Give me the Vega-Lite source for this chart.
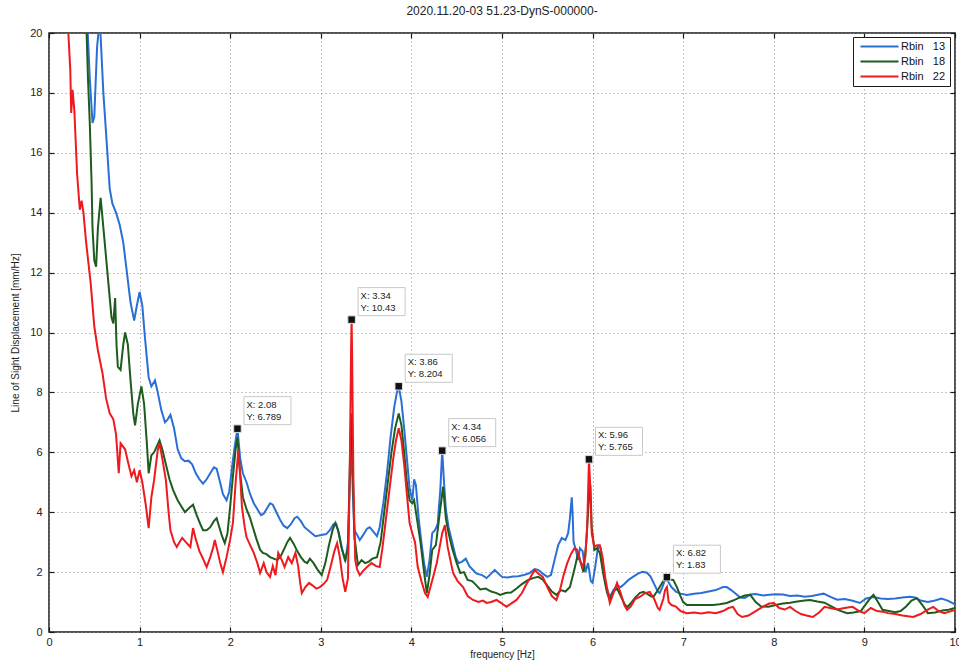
{
  "$schema": "https://vega.github.io/schema/vega-lite/v6.json",
  "width": 906,
  "height": 599,
  "autosize": {"type": "none"},
  "padding": {"left": 49, "top": 33, "right": 4, "bottom": 28},
  "background": "white",
  "title": {
    "text": "2020.11.20-03 51.23-DynS-000000-",
    "font": "Liberation Sans",
    "fontSize": 12,
    "fontWeight": "normal",
    "color": "#222222",
    "anchor": "middle",
    "offset": 9
  },
  "config": {
    "view": {"stroke": "#1a1a1a", "strokeWidth": 1.5},
    "axis": {
      "labelFont": "Liberation Sans",
      "labelFontSize": 11,
      "labelColor": "#222222",
      "titleFont": "Liberation Sans",
      "titleFontSize": 10,
      "titleFontWeight": "normal",
      "titleColor": "#222222",
      "tickColor": "#1a1a1a",
      "tickWidth": 1.2,
      "tickSize": -5,
      "domain": false,
      "grid": true,
      "gridColor": "#8a8a8a",
      "gridDash": [1, 3],
      "gridWidth": 1,
      "labelFlush": false
    }
  },
  "resolve": {"axis": {"x": "independent", "y": "independent"}},
  "datasets": {
    "spectra": [
      {"s":"Rbin 13","f":0.38,"v":24},{"s":"Rbin 13","f":0.42,"v":20.5},{"s":"Rbin 13","f":0.45,"v":18.5},{"s":"Rbin 13","f":0.48,"v":17.0},{"s":"Rbin 13","f":0.5,"v":17.2},{"s":"Rbin 13","f":0.53,"v":19.5},{"s":"Rbin 13","f":0.56,"v":20.5},{"s":"Rbin 13","f":0.6,"v":18.0},{"s":"Rbin 13","f":0.64,"v":16.2},{"s":"Rbin 13","f":0.67,"v":14.8},{"s":"Rbin 13","f":0.7,"v":14.3},{"s":"Rbin 13","f":0.74,"v":14.0},{"s":"Rbin 13","f":0.78,"v":13.6},{"s":"Rbin 13","f":0.82,"v":13.0},{"s":"Rbin 13","f":0.86,"v":12.0},{"s":"Rbin 13","f":0.9,"v":11.0},{"s":"Rbin 13","f":0.94,"v":10.4},{"s":"Rbin 13","f":0.97,"v":10.9},{"s":"Rbin 13","f":1.0,"v":11.35},{"s":"Rbin 13","f":1.03,"v":10.9},{"s":"Rbin 13","f":1.06,"v":9.8},{"s":"Rbin 13","f":1.1,"v":8.5},{"s":"Rbin 13","f":1.13,"v":8.2},{"s":"Rbin 13","f":1.17,"v":8.4},{"s":"Rbin 13","f":1.2,"v":8.0},{"s":"Rbin 13","f":1.24,"v":7.4},{"s":"Rbin 13","f":1.28,"v":7.0},{"s":"Rbin 13","f":1.31,"v":7.1},{"s":"Rbin 13","f":1.34,"v":7.25},{"s":"Rbin 13","f":1.38,"v":6.8},{"s":"Rbin 13","f":1.42,"v":6.1},{"s":"Rbin 13","f":1.46,"v":5.8},{"s":"Rbin 13","f":1.5,"v":5.7},{"s":"Rbin 13","f":1.54,"v":5.72},{"s":"Rbin 13","f":1.58,"v":5.6},{"s":"Rbin 13","f":1.62,"v":5.3},{"s":"Rbin 13","f":1.66,"v":5.1},{"s":"Rbin 13","f":1.7,"v":4.95},{"s":"Rbin 13","f":1.74,"v":5.1},{"s":"Rbin 13","f":1.78,"v":5.3},{"s":"Rbin 13","f":1.82,"v":5.5},{"s":"Rbin 13","f":1.85,"v":5.45},{"s":"Rbin 13","f":1.88,"v":5.1},{"s":"Rbin 13","f":1.92,"v":4.6},{"s":"Rbin 13","f":1.96,"v":4.4},{"s":"Rbin 13","f":1.99,"v":4.7},{"s":"Rbin 13","f":2.02,"v":5.5},{"s":"Rbin 13","f":2.05,"v":6.2},{"s":"Rbin 13","f":2.08,"v":6.789},{"s":"Rbin 13","f":2.11,"v":5.8},{"s":"Rbin 13","f":2.14,"v":5.3},{"s":"Rbin 13","f":2.18,"v":5.0},{"s":"Rbin 13","f":2.22,"v":4.6},{"s":"Rbin 13","f":2.26,"v":4.3},{"s":"Rbin 13","f":2.3,"v":4.1},{"s":"Rbin 13","f":2.34,"v":3.9},{"s":"Rbin 13","f":2.37,"v":3.95},{"s":"Rbin 13","f":2.4,"v":4.1},{"s":"Rbin 13","f":2.44,"v":4.3},{"s":"Rbin 13","f":2.47,"v":4.25},{"s":"Rbin 13","f":2.51,"v":4.0},{"s":"Rbin 13","f":2.55,"v":3.75},{"s":"Rbin 13","f":2.59,"v":3.55},{"s":"Rbin 13","f":2.63,"v":3.47},{"s":"Rbin 13","f":2.67,"v":3.6},{"s":"Rbin 13","f":2.71,"v":3.8},{"s":"Rbin 13","f":2.74,"v":3.85},{"s":"Rbin 13","f":2.78,"v":3.7},{"s":"Rbin 13","f":2.82,"v":3.5},{"s":"Rbin 13","f":2.86,"v":3.4},{"s":"Rbin 13","f":2.9,"v":3.3},{"s":"Rbin 13","f":2.94,"v":3.2},{"s":"Rbin 13","f":2.98,"v":3.22},{"s":"Rbin 13","f":3.02,"v":3.25},{"s":"Rbin 13","f":3.06,"v":3.27},{"s":"Rbin 13","f":3.1,"v":3.4},{"s":"Rbin 13","f":3.14,"v":3.6},{"s":"Rbin 13","f":3.17,"v":3.62},{"s":"Rbin 13","f":3.2,"v":3.3},{"s":"Rbin 13","f":3.24,"v":2.7},{"s":"Rbin 13","f":3.27,"v":2.35},{"s":"Rbin 13","f":3.3,"v":3.0},{"s":"Rbin 13","f":3.32,"v":5.0},{"s":"Rbin 13","f":3.335,"v":6.2},{"s":"Rbin 13","f":3.35,"v":5.0},{"s":"Rbin 13","f":3.37,"v":3.4},{"s":"Rbin 13","f":3.4,"v":3.25},{"s":"Rbin 13","f":3.43,"v":3.07},{"s":"Rbin 13","f":3.47,"v":3.25},{"s":"Rbin 13","f":3.51,"v":3.45},{"s":"Rbin 13","f":3.54,"v":3.5},{"s":"Rbin 13","f":3.58,"v":3.35},{"s":"Rbin 13","f":3.62,"v":3.2},{"s":"Rbin 13","f":3.65,"v":3.5},{"s":"Rbin 13","f":3.69,"v":4.3},{"s":"Rbin 13","f":3.73,"v":5.3},{"s":"Rbin 13","f":3.77,"v":6.5},{"s":"Rbin 13","f":3.81,"v":7.5},{"s":"Rbin 13","f":3.84,"v":8.0},{"s":"Rbin 13","f":3.86,"v":8.204},{"s":"Rbin 13","f":3.89,"v":7.7},{"s":"Rbin 13","f":3.92,"v":6.8},{"s":"Rbin 13","f":3.95,"v":5.8},{"s":"Rbin 13","f":3.98,"v":4.8},{"s":"Rbin 13","f":4.01,"v":4.4},{"s":"Rbin 13","f":4.03,"v":5.1},{"s":"Rbin 13","f":4.05,"v":4.9},{"s":"Rbin 13","f":4.08,"v":3.8},{"s":"Rbin 13","f":4.11,"v":3.0},{"s":"Rbin 13","f":4.14,"v":2.3},{"s":"Rbin 13","f":4.17,"v":1.84},{"s":"Rbin 13","f":4.2,"v":2.4},{"s":"Rbin 13","f":4.23,"v":3.3},{"s":"Rbin 13","f":4.26,"v":3.4},{"s":"Rbin 13","f":4.29,"v":3.6},{"s":"Rbin 13","f":4.32,"v":4.8},{"s":"Rbin 13","f":4.34,"v":6.056},{"s":"Rbin 13","f":4.36,"v":5.0},{"s":"Rbin 13","f":4.38,"v":4.1},{"s":"Rbin 13","f":4.41,"v":3.5},{"s":"Rbin 13","f":4.45,"v":3.0},{"s":"Rbin 13","f":4.49,"v":2.5},{"s":"Rbin 13","f":4.52,"v":2.3},{"s":"Rbin 13","f":4.56,"v":2.35},{"s":"Rbin 13","f":4.6,"v":2.45},{"s":"Rbin 13","f":4.64,"v":2.2},{"s":"Rbin 13","f":4.68,"v":2.07},{"s":"Rbin 13","f":4.72,"v":1.95},{"s":"Rbin 13","f":4.78,"v":1.9},{"s":"Rbin 13","f":4.83,"v":1.8},{"s":"Rbin 13","f":4.88,"v":1.95},{"s":"Rbin 13","f":4.92,"v":2.07},{"s":"Rbin 13","f":4.96,"v":1.95},{"s":"Rbin 13","f":5.0,"v":1.84},{"s":"Rbin 13","f":5.06,"v":1.82},{"s":"Rbin 13","f":5.12,"v":1.85},{"s":"Rbin 13","f":5.18,"v":1.86},{"s":"Rbin 13","f":5.24,"v":1.9},{"s":"Rbin 13","f":5.3,"v":1.96},{"s":"Rbin 13","f":5.36,"v":2.1},{"s":"Rbin 13","f":5.4,"v":2.07},{"s":"Rbin 13","f":5.45,"v":1.95},{"s":"Rbin 13","f":5.5,"v":1.84},{"s":"Rbin 13","f":5.54,"v":1.9},{"s":"Rbin 13","f":5.58,"v":2.4},{"s":"Rbin 13","f":5.62,"v":2.9},{"s":"Rbin 13","f":5.66,"v":3.14},{"s":"Rbin 13","f":5.7,"v":3.07},{"s":"Rbin 13","f":5.73,"v":3.3},{"s":"Rbin 13","f":5.75,"v":3.8},{"s":"Rbin 13","f":5.77,"v":4.5},{"s":"Rbin 13","f":5.78,"v":3.9},{"s":"Rbin 13","f":5.79,"v":3.0},{"s":"Rbin 13","f":5.81,"v":2.8},{"s":"Rbin 13","f":5.84,"v":2.4},{"s":"Rbin 13","f":5.86,"v":2.8},{"s":"Rbin 13","f":5.89,"v":2.7},{"s":"Rbin 13","f":5.92,"v":2.0},{"s":"Rbin 13","f":5.95,"v":2.3},{"s":"Rbin 13","f":5.98,"v":1.7},{"s":"Rbin 13","f":6.0,"v":1.64},{"s":"Rbin 13","f":6.03,"v":2.2},{"s":"Rbin 13","f":6.06,"v":2.84},{"s":"Rbin 13","f":6.09,"v":2.8},{"s":"Rbin 13","f":6.12,"v":2.0},{"s":"Rbin 13","f":6.15,"v":1.5},{"s":"Rbin 13","f":6.19,"v":1.17},{"s":"Rbin 13","f":6.23,"v":1.4},{"s":"Rbin 13","f":6.27,"v":1.55},{"s":"Rbin 13","f":6.31,"v":1.5},{"s":"Rbin 13","f":6.35,"v":1.6},{"s":"Rbin 13","f":6.4,"v":1.75},{"s":"Rbin 13","f":6.45,"v":1.85},{"s":"Rbin 13","f":6.5,"v":1.95},{"s":"Rbin 13","f":6.55,"v":2.01},{"s":"Rbin 13","f":6.6,"v":1.98},{"s":"Rbin 13","f":6.64,"v":1.85},{"s":"Rbin 13","f":6.68,"v":1.6},{"s":"Rbin 13","f":6.72,"v":1.35},{"s":"Rbin 13","f":6.74,"v":1.3},{"s":"Rbin 13","f":6.77,"v":1.5},{"s":"Rbin 13","f":6.8,"v":1.75},{"s":"Rbin 13","f":6.83,"v":1.7},{"s":"Rbin 13","f":6.87,"v":1.5},{"s":"Rbin 13","f":6.92,"v":1.35},{"s":"Rbin 13","f":6.97,"v":1.28},{"s":"Rbin 13","f":7.04,"v":1.24},{"s":"Rbin 13","f":7.12,"v":1.28},{"s":"Rbin 13","f":7.2,"v":1.3},{"s":"Rbin 13","f":7.28,"v":1.35},{"s":"Rbin 13","f":7.36,"v":1.4},{"s":"Rbin 13","f":7.44,"v":1.5},{"s":"Rbin 13","f":7.48,"v":1.5},{"s":"Rbin 13","f":7.53,"v":1.4},{"s":"Rbin 13","f":7.58,"v":1.28},{"s":"Rbin 13","f":7.63,"v":1.15},{"s":"Rbin 13","f":7.68,"v":1.14},{"s":"Rbin 13","f":7.74,"v":1.25},{"s":"Rbin 13","f":7.8,"v":1.27},{"s":"Rbin 13","f":7.88,"v":1.22},{"s":"Rbin 13","f":7.95,"v":1.24},{"s":"Rbin 13","f":8.02,"v":1.26},{"s":"Rbin 13","f":8.1,"v":1.25},{"s":"Rbin 13","f":8.18,"v":1.2},{"s":"Rbin 13","f":8.26,"v":1.22},{"s":"Rbin 13","f":8.34,"v":1.18},{"s":"Rbin 13","f":8.42,"v":1.2},{"s":"Rbin 13","f":8.5,"v":1.25},{"s":"Rbin 13","f":8.55,"v":1.28},{"s":"Rbin 13","f":8.62,"v":1.18},{"s":"Rbin 13","f":8.7,"v":1.08},{"s":"Rbin 13","f":8.78,"v":1.1},{"s":"Rbin 13","f":8.86,"v":1.05},{"s":"Rbin 13","f":8.95,"v":0.97},{"s":"Rbin 13","f":9.02,"v":1.12},{"s":"Rbin 13","f":9.1,"v":1.17},{"s":"Rbin 13","f":9.18,"v":1.12},{"s":"Rbin 13","f":9.26,"v":1.1},{"s":"Rbin 13","f":9.34,"v":1.12},{"s":"Rbin 13","f":9.42,"v":1.15},{"s":"Rbin 13","f":9.5,"v":1.18},{"s":"Rbin 13","f":9.56,"v":1.15},{"s":"Rbin 13","f":9.62,"v":1.05},{"s":"Rbin 13","f":9.7,"v":1.0},{"s":"Rbin 13","f":9.78,"v":1.05},{"s":"Rbin 13","f":9.85,"v":1.12},{"s":"Rbin 13","f":9.92,"v":1.05},{"s":"Rbin 13","f":10.0,"v":0.92},

      {"s":"Rbin 18","f":0.36,"v":24},{"s":"Rbin 18","f":0.41,"v":20.5},{"s":"Rbin 18","f":0.43,"v":18.5},{"s":"Rbin 18","f":0.45,"v":17.0},{"s":"Rbin 18","f":0.47,"v":15.0},{"s":"Rbin 18","f":0.48,"v":13.5},{"s":"Rbin 18","f":0.5,"v":12.4},{"s":"Rbin 18","f":0.52,"v":12.2},{"s":"Rbin 18","f":0.54,"v":13.5},{"s":"Rbin 18","f":0.57,"v":14.5},{"s":"Rbin 18","f":0.6,"v":13.5},{"s":"Rbin 18","f":0.63,"v":12.5},{"s":"Rbin 18","f":0.66,"v":11.5},{"s":"Rbin 18","f":0.69,"v":10.5},{"s":"Rbin 18","f":0.71,"v":10.3},{"s":"Rbin 18","f":0.73,"v":11.15},{"s":"Rbin 18","f":0.745,"v":9.6},{"s":"Rbin 18","f":0.76,"v":8.85},{"s":"Rbin 18","f":0.79,"v":8.75},{"s":"Rbin 18","f":0.82,"v":9.6},{"s":"Rbin 18","f":0.84,"v":10.0},{"s":"Rbin 18","f":0.87,"v":9.6},{"s":"Rbin 18","f":0.9,"v":8.4},{"s":"Rbin 18","f":0.93,"v":7.3},{"s":"Rbin 18","f":0.95,"v":6.9},{"s":"Rbin 18","f":0.98,"v":7.6},{"s":"Rbin 18","f":1.02,"v":8.2},{"s":"Rbin 18","f":1.05,"v":7.6},{"s":"Rbin 18","f":1.08,"v":6.3},{"s":"Rbin 18","f":1.1,"v":5.3},{"s":"Rbin 18","f":1.13,"v":5.9},{"s":"Rbin 18","f":1.16,"v":6.0},{"s":"Rbin 18","f":1.19,"v":6.2},{"s":"Rbin 18","f":1.22,"v":6.4},{"s":"Rbin 18","f":1.25,"v":6.1},{"s":"Rbin 18","f":1.29,"v":5.6},{"s":"Rbin 18","f":1.33,"v":5.1},{"s":"Rbin 18","f":1.37,"v":4.74},{"s":"Rbin 18","f":1.42,"v":4.4},{"s":"Rbin 18","f":1.46,"v":4.2},{"s":"Rbin 18","f":1.5,"v":4.0},{"s":"Rbin 18","f":1.55,"v":4.15},{"s":"Rbin 18","f":1.59,"v":4.25},{"s":"Rbin 18","f":1.63,"v":3.9},{"s":"Rbin 18","f":1.67,"v":3.6},{"s":"Rbin 18","f":1.7,"v":3.4},{"s":"Rbin 18","f":1.74,"v":3.4},{"s":"Rbin 18","f":1.78,"v":3.5},{"s":"Rbin 18","f":1.82,"v":3.7},{"s":"Rbin 18","f":1.85,"v":3.8},{"s":"Rbin 18","f":1.88,"v":3.5},{"s":"Rbin 18","f":1.91,"v":3.2},{"s":"Rbin 18","f":1.94,"v":2.97},{"s":"Rbin 18","f":1.97,"v":3.3},{"s":"Rbin 18","f":2.0,"v":4.2},{"s":"Rbin 18","f":2.03,"v":5.2},{"s":"Rbin 18","f":2.06,"v":6.1},{"s":"Rbin 18","f":2.08,"v":6.5},{"s":"Rbin 18","f":2.11,"v":5.3},{"s":"Rbin 18","f":2.14,"v":4.5},{"s":"Rbin 18","f":2.18,"v":4.1},{"s":"Rbin 18","f":2.22,"v":3.8},{"s":"Rbin 18","f":2.25,"v":3.5},{"s":"Rbin 18","f":2.29,"v":3.1},{"s":"Rbin 18","f":2.33,"v":2.75},{"s":"Rbin 18","f":2.36,"v":2.64},{"s":"Rbin 18","f":2.4,"v":2.6},{"s":"Rbin 18","f":2.44,"v":2.5},{"s":"Rbin 18","f":2.48,"v":2.45},{"s":"Rbin 18","f":2.52,"v":2.4},{"s":"Rbin 18","f":2.56,"v":2.55},{"s":"Rbin 18","f":2.6,"v":2.8},{"s":"Rbin 18","f":2.63,"v":3.0},{"s":"Rbin 18","f":2.66,"v":3.14},{"s":"Rbin 18","f":2.7,"v":2.95},{"s":"Rbin 18","f":2.74,"v":2.7},{"s":"Rbin 18","f":2.78,"v":2.5},{"s":"Rbin 18","f":2.82,"v":2.35},{"s":"Rbin 18","f":2.85,"v":2.3},{"s":"Rbin 18","f":2.88,"v":2.45},{"s":"Rbin 18","f":2.92,"v":2.3},{"s":"Rbin 18","f":2.96,"v":2.1},{"s":"Rbin 18","f":3.01,"v":1.9},{"s":"Rbin 18","f":3.05,"v":2.3},{"s":"Rbin 18","f":3.09,"v":2.9},{"s":"Rbin 18","f":3.13,"v":3.4},{"s":"Rbin 18","f":3.16,"v":3.64},{"s":"Rbin 18","f":3.19,"v":3.4},{"s":"Rbin 18","f":3.23,"v":2.8},{"s":"Rbin 18","f":3.27,"v":2.4},{"s":"Rbin 18","f":3.3,"v":2.8},{"s":"Rbin 18","f":3.32,"v":5.5},{"s":"Rbin 18","f":3.335,"v":7.3},{"s":"Rbin 18","f":3.35,"v":5.8},{"s":"Rbin 18","f":3.37,"v":3.2},{"s":"Rbin 18","f":3.41,"v":2.24},{"s":"Rbin 18","f":3.45,"v":2.4},{"s":"Rbin 18","f":3.49,"v":2.3},{"s":"Rbin 18","f":3.53,"v":2.35},{"s":"Rbin 18","f":3.57,"v":2.45},{"s":"Rbin 18","f":3.62,"v":2.5},{"s":"Rbin 18","f":3.66,"v":3.0},{"s":"Rbin 18","f":3.7,"v":4.0},{"s":"Rbin 18","f":3.74,"v":5.0},{"s":"Rbin 18","f":3.78,"v":6.0},{"s":"Rbin 18","f":3.82,"v":6.8},{"s":"Rbin 18","f":3.86,"v":7.3},{"s":"Rbin 18","f":3.89,"v":6.9},{"s":"Rbin 18","f":3.92,"v":6.0},{"s":"Rbin 18","f":3.95,"v":5.0},{"s":"Rbin 18","f":3.98,"v":4.4},{"s":"Rbin 18","f":4.01,"v":4.3},{"s":"Rbin 18","f":4.03,"v":4.4},{"s":"Rbin 18","f":4.06,"v":3.8},{"s":"Rbin 18","f":4.1,"v":3.0},{"s":"Rbin 18","f":4.14,"v":2.0},{"s":"Rbin 18","f":4.17,"v":1.3},{"s":"Rbin 18","f":4.2,"v":1.9},{"s":"Rbin 18","f":4.23,"v":2.74},{"s":"Rbin 18","f":4.27,"v":2.9},{"s":"Rbin 18","f":4.31,"v":3.9},{"s":"Rbin 18","f":4.35,"v":4.85},{"s":"Rbin 18","f":4.38,"v":3.8},{"s":"Rbin 18","f":4.41,"v":3.3},{"s":"Rbin 18","f":4.45,"v":2.8},{"s":"Rbin 18","f":4.5,"v":2.3},{"s":"Rbin 18","f":4.54,"v":1.97},{"s":"Rbin 18","f":4.58,"v":2.0},{"s":"Rbin 18","f":4.62,"v":1.74},{"s":"Rbin 18","f":4.67,"v":1.7},{"s":"Rbin 18","f":4.72,"v":1.55},{"s":"Rbin 18","f":4.76,"v":1.42},{"s":"Rbin 18","f":4.82,"v":1.45},{"s":"Rbin 18","f":4.88,"v":1.35},{"s":"Rbin 18","f":4.94,"v":1.3},{"s":"Rbin 18","f":4.98,"v":1.24},{"s":"Rbin 18","f":5.04,"v":1.3},{"s":"Rbin 18","f":5.1,"v":1.32},{"s":"Rbin 18","f":5.16,"v":1.45},{"s":"Rbin 18","f":5.22,"v":1.6},{"s":"Rbin 18","f":5.28,"v":1.72},{"s":"Rbin 18","f":5.34,"v":1.8},{"s":"Rbin 18","f":5.4,"v":1.84},{"s":"Rbin 18","f":5.45,"v":1.75},{"s":"Rbin 18","f":5.5,"v":1.55},{"s":"Rbin 18","f":5.55,"v":1.35},{"s":"Rbin 18","f":5.6,"v":1.24},{"s":"Rbin 18","f":5.65,"v":1.4},{"s":"Rbin 18","f":5.7,"v":1.35},{"s":"Rbin 18","f":5.75,"v":1.5},{"s":"Rbin 18","f":5.8,"v":2.1},{"s":"Rbin 18","f":5.84,"v":2.64},{"s":"Rbin 18","f":5.87,"v":2.3},{"s":"Rbin 18","f":5.9,"v":2.0},{"s":"Rbin 18","f":5.93,"v":3.0},{"s":"Rbin 18","f":5.96,"v":4.5},{"s":"Rbin 18","f":5.975,"v":4.9},{"s":"Rbin 18","f":5.99,"v":3.5},{"s":"Rbin 18","f":6.02,"v":2.74},{"s":"Rbin 18","f":6.05,"v":2.8},{"s":"Rbin 18","f":6.08,"v":2.64},{"s":"Rbin 18","f":6.12,"v":1.9},{"s":"Rbin 18","f":6.16,"v":1.3},{"s":"Rbin 18","f":6.19,"v":1.07},{"s":"Rbin 18","f":6.23,"v":1.35},{"s":"Rbin 18","f":6.27,"v":1.45},{"s":"Rbin 18","f":6.31,"v":1.2},{"s":"Rbin 18","f":6.35,"v":0.95},{"s":"Rbin 18","f":6.38,"v":0.83},{"s":"Rbin 18","f":6.42,"v":0.95},{"s":"Rbin 18","f":6.47,"v":1.15},{"s":"Rbin 18","f":6.52,"v":1.3},{"s":"Rbin 18","f":6.56,"v":1.34},{"s":"Rbin 18","f":6.6,"v":1.28},{"s":"Rbin 18","f":6.64,"v":1.2},{"s":"Rbin 18","f":6.67,"v":1.17},{"s":"Rbin 18","f":6.71,"v":1.35},{"s":"Rbin 18","f":6.75,"v":1.55},{"s":"Rbin 18","f":6.78,"v":1.7},{"s":"Rbin 18","f":6.82,"v":1.83},{"s":"Rbin 18","f":6.85,"v":1.75},{"s":"Rbin 18","f":6.89,"v":1.74},{"s":"Rbin 18","f":6.93,"v":1.5},{"s":"Rbin 18","f":6.97,"v":1.2},{"s":"Rbin 18","f":7.0,"v":1.0},{"s":"Rbin 18","f":7.04,"v":0.9},{"s":"Rbin 18","f":7.12,"v":0.9},{"s":"Rbin 18","f":7.2,"v":0.9},{"s":"Rbin 18","f":7.28,"v":0.9},{"s":"Rbin 18","f":7.33,"v":0.9},{"s":"Rbin 18","f":7.4,"v":0.93},{"s":"Rbin 18","f":7.48,"v":0.97},{"s":"Rbin 18","f":7.55,"v":1.05},{"s":"Rbin 18","f":7.62,"v":1.15},{"s":"Rbin 18","f":7.68,"v":1.22},{"s":"Rbin 18","f":7.74,"v":1.24},{"s":"Rbin 18","f":7.8,"v":1.0},{"s":"Rbin 18","f":7.86,"v":0.85},{"s":"Rbin 18","f":7.94,"v":0.84},{"s":"Rbin 18","f":8.02,"v":0.9},{"s":"Rbin 18","f":8.1,"v":0.95},{"s":"Rbin 18","f":8.18,"v":0.98},{"s":"Rbin 18","f":8.26,"v":1.02},{"s":"Rbin 18","f":8.34,"v":1.05},{"s":"Rbin 18","f":8.4,"v":1.07},{"s":"Rbin 18","f":8.48,"v":1.02},{"s":"Rbin 18","f":8.56,"v":0.98},{"s":"Rbin 18","f":8.64,"v":0.85},{"s":"Rbin 18","f":8.72,"v":0.72},{"s":"Rbin 18","f":8.81,"v":0.63},{"s":"Rbin 18","f":8.88,"v":0.65},{"s":"Rbin 18","f":8.96,"v":0.7},{"s":"Rbin 18","f":9.02,"v":0.95},{"s":"Rbin 18","f":9.07,"v":1.15},{"s":"Rbin 18","f":9.1,"v":1.24},{"s":"Rbin 18","f":9.14,"v":1.05},{"s":"Rbin 18","f":9.2,"v":0.74},{"s":"Rbin 18","f":9.27,"v":0.7},{"s":"Rbin 18","f":9.34,"v":0.66},{"s":"Rbin 18","f":9.4,"v":0.7},{"s":"Rbin 18","f":9.46,"v":0.85},{"s":"Rbin 18","f":9.52,"v":1.05},{"s":"Rbin 18","f":9.58,"v":1.13},{"s":"Rbin 18","f":9.64,"v":0.9},{"s":"Rbin 18","f":9.7,"v":0.63},{"s":"Rbin 18","f":9.78,"v":0.65},{"s":"Rbin 18","f":9.86,"v":0.72},{"s":"Rbin 18","f":9.93,"v":0.74},{"s":"Rbin 18","f":10.0,"v":0.8},

      {"s":"Rbin 22","f":0.15,"v":26},{"s":"Rbin 22","f":0.21,"v":20.2},{"s":"Rbin 22","f":0.235,"v":18.77},{"s":"Rbin 22","f":0.245,"v":17.33},{"s":"Rbin 22","f":0.26,"v":18.1},{"s":"Rbin 22","f":0.28,"v":17.4},{"s":"Rbin 22","f":0.31,"v":15.3},{"s":"Rbin 22","f":0.34,"v":14.1},{"s":"Rbin 22","f":0.36,"v":14.4},{"s":"Rbin 22","f":0.38,"v":14.0},{"s":"Rbin 22","f":0.41,"v":13.0},{"s":"Rbin 22","f":0.46,"v":11.65},{"s":"Rbin 22","f":0.5,"v":10.2},{"s":"Rbin 22","f":0.54,"v":9.4},{"s":"Rbin 22","f":0.59,"v":8.65},{"s":"Rbin 22","f":0.63,"v":7.8},{"s":"Rbin 22","f":0.67,"v":7.3},{"s":"Rbin 22","f":0.71,"v":7.1},{"s":"Rbin 22","f":0.74,"v":6.6},{"s":"Rbin 22","f":0.77,"v":5.3},{"s":"Rbin 22","f":0.79,"v":6.3},{"s":"Rbin 22","f":0.84,"v":6.1},{"s":"Rbin 22","f":0.87,"v":5.7},{"s":"Rbin 22","f":0.91,"v":5.2},{"s":"Rbin 22","f":0.94,"v":5.4},{"s":"Rbin 22","f":0.97,"v":5.0},{"s":"Rbin 22","f":1.0,"v":5.4},{"s":"Rbin 22","f":1.03,"v":5.0},{"s":"Rbin 22","f":1.07,"v":4.2},{"s":"Rbin 22","f":1.1,"v":3.47},{"s":"Rbin 22","f":1.13,"v":4.5},{"s":"Rbin 22","f":1.16,"v":5.07},{"s":"Rbin 22","f":1.2,"v":6.07},{"s":"Rbin 22","f":1.22,"v":6.3},{"s":"Rbin 22","f":1.25,"v":5.8},{"s":"Rbin 22","f":1.29,"v":5.07},{"s":"Rbin 22","f":1.32,"v":4.0},{"s":"Rbin 22","f":1.34,"v":3.4},{"s":"Rbin 22","f":1.38,"v":3.0},{"s":"Rbin 22","f":1.41,"v":2.84},{"s":"Rbin 22","f":1.44,"v":3.0},{"s":"Rbin 22","f":1.47,"v":3.14},{"s":"Rbin 22","f":1.51,"v":3.0},{"s":"Rbin 22","f":1.56,"v":2.84},{"s":"Rbin 22","f":1.59,"v":3.47},{"s":"Rbin 22","f":1.62,"v":3.1},{"s":"Rbin 22","f":1.66,"v":2.7},{"s":"Rbin 22","f":1.7,"v":2.45},{"s":"Rbin 22","f":1.74,"v":2.17},{"s":"Rbin 22","f":1.78,"v":2.5},{"s":"Rbin 22","f":1.81,"v":2.8},{"s":"Rbin 22","f":1.83,"v":3.07},{"s":"Rbin 22","f":1.86,"v":2.7},{"s":"Rbin 22","f":1.89,"v":2.3},{"s":"Rbin 22","f":1.92,"v":2.0},{"s":"Rbin 22","f":1.96,"v":2.5},{"s":"Rbin 22","f":2.0,"v":3.1},{"s":"Rbin 22","f":2.03,"v":3.64},{"s":"Rbin 22","f":2.06,"v":5.0},{"s":"Rbin 22","f":2.09,"v":6.07},{"s":"Rbin 22","f":2.11,"v":5.2},{"s":"Rbin 22","f":2.13,"v":4.17},{"s":"Rbin 22","f":2.16,"v":3.5},{"s":"Rbin 22","f":2.18,"v":3.17},{"s":"Rbin 22","f":2.22,"v":2.9},{"s":"Rbin 22","f":2.26,"v":2.64},{"s":"Rbin 22","f":2.3,"v":2.3},{"s":"Rbin 22","f":2.33,"v":1.97},{"s":"Rbin 22","f":2.37,"v":2.3},{"s":"Rbin 22","f":2.4,"v":2.0},{"s":"Rbin 22","f":2.44,"v":1.84},{"s":"Rbin 22","f":2.47,"v":2.2},{"s":"Rbin 22","f":2.5,"v":1.9},{"s":"Rbin 22","f":2.53,"v":2.64},{"s":"Rbin 22","f":2.57,"v":2.4},{"s":"Rbin 22","f":2.6,"v":2.17},{"s":"Rbin 22","f":2.64,"v":2.5},{"s":"Rbin 22","f":2.68,"v":2.3},{"s":"Rbin 22","f":2.72,"v":2.64},{"s":"Rbin 22","f":2.75,"v":2.2},{"s":"Rbin 22","f":2.77,"v":1.7},{"s":"Rbin 22","f":2.79,"v":1.3},{"s":"Rbin 22","f":2.83,"v":1.5},{"s":"Rbin 22","f":2.87,"v":1.64},{"s":"Rbin 22","f":2.91,"v":1.55},{"s":"Rbin 22","f":2.95,"v":1.45},{"s":"Rbin 22","f":2.99,"v":1.5},{"s":"Rbin 22","f":3.03,"v":1.6},{"s":"Rbin 22","f":3.07,"v":1.74},{"s":"Rbin 22","f":3.11,"v":2.2},{"s":"Rbin 22","f":3.15,"v":2.7},{"s":"Rbin 22","f":3.18,"v":2.97},{"s":"Rbin 22","f":3.21,"v":2.5},{"s":"Rbin 22","f":3.24,"v":1.8},{"s":"Rbin 22","f":3.27,"v":1.34},{"s":"Rbin 22","f":3.3,"v":1.8},{"s":"Rbin 22","f":3.32,"v":5.5},{"s":"Rbin 22","f":3.335,"v":9.6},{"s":"Rbin 22","f":3.34,"v":10.43},{"s":"Rbin 22","f":3.345,"v":9.4},{"s":"Rbin 22","f":3.36,"v":5.0},{"s":"Rbin 22","f":3.38,"v":2.4},{"s":"Rbin 22","f":3.4,"v":2.1},{"s":"Rbin 22","f":3.43,"v":1.9},{"s":"Rbin 22","f":3.47,"v":2.05},{"s":"Rbin 22","f":3.51,"v":2.17},{"s":"Rbin 22","f":3.56,"v":2.3},{"s":"Rbin 22","f":3.61,"v":2.2},{"s":"Rbin 22","f":3.65,"v":2.17},{"s":"Rbin 22","f":3.68,"v":2.8},{"s":"Rbin 22","f":3.72,"v":3.8},{"s":"Rbin 22","f":3.76,"v":4.8},{"s":"Rbin 22","f":3.8,"v":5.8},{"s":"Rbin 22","f":3.83,"v":6.4},{"s":"Rbin 22","f":3.86,"v":6.8},{"s":"Rbin 22","f":3.89,"v":6.4},{"s":"Rbin 22","f":3.92,"v":5.6},{"s":"Rbin 22","f":3.95,"v":4.6},{"s":"Rbin 22","f":3.98,"v":3.64},{"s":"Rbin 22","f":4.01,"v":3.3},{"s":"Rbin 22","f":4.04,"v":3.0},{"s":"Rbin 22","f":4.07,"v":2.17},{"s":"Rbin 22","f":4.11,"v":1.7},{"s":"Rbin 22","f":4.15,"v":1.3},{"s":"Rbin 22","f":4.18,"v":1.17},{"s":"Rbin 22","f":4.21,"v":1.5},{"s":"Rbin 22","f":4.24,"v":1.84},{"s":"Rbin 22","f":4.28,"v":2.3},{"s":"Rbin 22","f":4.31,"v":2.8},{"s":"Rbin 22","f":4.34,"v":3.3},{"s":"Rbin 22","f":4.37,"v":3.57},{"s":"Rbin 22","f":4.4,"v":2.84},{"s":"Rbin 22","f":4.43,"v":2.4},{"s":"Rbin 22","f":4.46,"v":1.97},{"s":"Rbin 22","f":4.51,"v":1.7},{"s":"Rbin 22","f":4.57,"v":1.5},{"s":"Rbin 22","f":4.62,"v":1.2},{"s":"Rbin 22","f":4.68,"v":1.07},{"s":"Rbin 22","f":4.74,"v":1.0},{"s":"Rbin 22","f":4.79,"v":1.05},{"s":"Rbin 22","f":4.83,"v":0.97},{"s":"Rbin 22","f":4.88,"v":1.0},{"s":"Rbin 22","f":4.94,"v":1.07},{"s":"Rbin 22","f":5.0,"v":0.95},{"s":"Rbin 22","f":5.05,"v":0.84},{"s":"Rbin 22","f":5.1,"v":0.95},{"s":"Rbin 22","f":5.16,"v":1.07},{"s":"Rbin 22","f":5.22,"v":1.3},{"s":"Rbin 22","f":5.27,"v":1.6},{"s":"Rbin 22","f":5.31,"v":1.8},{"s":"Rbin 22","f":5.36,"v":2.07},{"s":"Rbin 22","f":5.4,"v":1.95},{"s":"Rbin 22","f":5.45,"v":1.84},{"s":"Rbin 22","f":5.5,"v":1.5},{"s":"Rbin 22","f":5.55,"v":1.2},{"s":"Rbin 22","f":5.6,"v":1.07},{"s":"Rbin 22","f":5.64,"v":1.4},{"s":"Rbin 22","f":5.68,"v":1.9},{"s":"Rbin 22","f":5.72,"v":2.3},{"s":"Rbin 22","f":5.76,"v":2.6},{"s":"Rbin 22","f":5.8,"v":2.8},{"s":"Rbin 22","f":5.83,"v":2.74},{"s":"Rbin 22","f":5.86,"v":2.4},{"s":"Rbin 22","f":5.89,"v":2.17},{"s":"Rbin 22","f":5.92,"v":2.5},{"s":"Rbin 22","f":5.94,"v":3.5},{"s":"Rbin 22","f":5.96,"v":5.765},{"s":"Rbin 22","f":5.975,"v":4.8},{"s":"Rbin 22","f":5.99,"v":3.3},{"s":"Rbin 22","f":6.02,"v":2.84},{"s":"Rbin 22","f":6.05,"v":2.9},{"s":"Rbin 22","f":6.08,"v":2.9},{"s":"Rbin 22","f":6.11,"v":2.5},{"s":"Rbin 22","f":6.14,"v":1.8},{"s":"Rbin 22","f":6.17,"v":1.3},{"s":"Rbin 22","f":6.19,"v":0.97},{"s":"Rbin 22","f":6.23,"v":1.3},{"s":"Rbin 22","f":6.27,"v":1.64},{"s":"Rbin 22","f":6.31,"v":1.3},{"s":"Rbin 22","f":6.35,"v":0.9},{"s":"Rbin 22","f":6.38,"v":0.74},{"s":"Rbin 22","f":6.42,"v":0.85},{"s":"Rbin 22","f":6.47,"v":1.1},{"s":"Rbin 22","f":6.52,"v":1.17},{"s":"Rbin 22","f":6.58,"v":1.3},{"s":"Rbin 22","f":6.63,"v":1.34},{"s":"Rbin 22","f":6.68,"v":1.1},{"s":"Rbin 22","f":6.72,"v":0.8},{"s":"Rbin 22","f":6.74,"v":0.74},{"s":"Rbin 22","f":6.78,"v":1.1},{"s":"Rbin 22","f":6.8,"v":1.4},{"s":"Rbin 22","f":6.82,"v":1.5},{"s":"Rbin 22","f":6.84,"v":1.0},{"s":"Rbin 22","f":6.87,"v":0.9},{"s":"Rbin 22","f":6.92,"v":0.85},{"s":"Rbin 22","f":6.97,"v":0.7},{"s":"Rbin 22","f":7.04,"v":0.63},{"s":"Rbin 22","f":7.12,"v":0.65},{"s":"Rbin 22","f":7.2,"v":0.62},{"s":"Rbin 22","f":7.28,"v":0.66},{"s":"Rbin 22","f":7.36,"v":0.63},{"s":"Rbin 22","f":7.44,"v":0.7},{"s":"Rbin 22","f":7.5,"v":0.8},{"s":"Rbin 22","f":7.55,"v":0.84},{"s":"Rbin 22","f":7.6,"v":0.6},{"s":"Rbin 22","f":7.65,"v":0.5},{"s":"Rbin 22","f":7.72,"v":0.55},{"s":"Rbin 22","f":7.8,"v":0.7},{"s":"Rbin 22","f":7.88,"v":0.85},{"s":"Rbin 22","f":7.95,"v":0.95},{"s":"Rbin 22","f":8.0,"v":0.97},{"s":"Rbin 22","f":8.06,"v":0.8},{"s":"Rbin 22","f":8.12,"v":0.75},{"s":"Rbin 22","f":8.18,"v":0.84},{"s":"Rbin 22","f":8.24,"v":0.7},{"s":"Rbin 22","f":8.3,"v":0.6},{"s":"Rbin 22","f":8.36,"v":0.55},{"s":"Rbin 22","f":8.43,"v":0.5},{"s":"Rbin 22","f":8.5,"v":0.65},{"s":"Rbin 22","f":8.56,"v":0.84},{"s":"Rbin 22","f":8.62,"v":0.8},{"s":"Rbin 22","f":8.7,"v":0.75},{"s":"Rbin 22","f":8.78,"v":0.8},{"s":"Rbin 22","f":8.87,"v":0.84},{"s":"Rbin 22","f":8.94,"v":0.7},{"s":"Rbin 22","f":9.0,"v":0.63},{"s":"Rbin 22","f":9.07,"v":0.8},{"s":"Rbin 22","f":9.14,"v":0.7},{"s":"Rbin 22","f":9.2,"v":0.68},{"s":"Rbin 22","f":9.26,"v":0.63},{"s":"Rbin 22","f":9.34,"v":0.6},{"s":"Rbin 22","f":9.42,"v":0.55},{"s":"Rbin 22","f":9.5,"v":0.52},{"s":"Rbin 22","f":9.54,"v":0.5},{"s":"Rbin 22","f":9.62,"v":0.6},{"s":"Rbin 22","f":9.7,"v":0.75},{"s":"Rbin 22","f":9.76,"v":0.84},{"s":"Rbin 22","f":9.82,"v":0.7},{"s":"Rbin 22","f":9.88,"v":0.63},{"s":"Rbin 22","f":9.94,"v":0.68},{"s":"Rbin 22","f":10.0,"v":0.74}
    ],
    "tips": [
      {"s":"Rbin 13","f":2.08,"v":6.789},
      {"s":"Rbin 22","f":3.34,"v":10.43},
      {"s":"Rbin 13","f":3.86,"v":8.204},
      {"s":"Rbin 13","f":4.34,"v":6.056},
      {"s":"Rbin 22","f":5.96,"v":5.765},
      {"s":"Rbin 18","f":6.82,"v":1.83}
    ]
  },
  "layer": [
    {
      "data": {"name": "spectra"},
      "mark": {"type": "line", "strokeWidth": 2, "clip": true},
      "encoding": {
        "x": {
          "field": "f", "type": "quantitative",
          "scale": {"domain": [0, 10], "nice": false, "zero": false},
          "axis": {"values": [0,1,2,3,4,5,6,7,8,9,10], "format": "d", "title": "frequency [Hz]", "labelPadding": 9, "titlePadding": 2}
        },
        "y": {
          "field": "v", "type": "quantitative",
          "scale": {"domain": [0, 20], "nice": false},
          "axis": {"values": [0,2,4,6,8,10,12,14,16,18,20], "format": "d", "title": "Line of Sight Displacement [mm/Hz]", "labelPadding": 12, "titlePadding": 9}
        },
        "color": {
          "field": "s", "type": "nominal",
          "scale": {"domain": ["Rbin 13", "Rbin 18", "Rbin 22"], "range": ["#2a6fd6", "#1d5c1d", "#ee1a1e"]},
          "legend": {
            "title": null,
            "orient": "none",
            "legendX": 804,
            "legendY": 4,
            "direction": "vertical",
            "symbolType": "M-4.75,0H4.75",
            "symbolSize": 64,
            "symbolStrokeWidth": 2,
            "symbolOffset": 17,
            "labelOffset": 16,
            "labelFont": "Liberation Sans",
            "labelFontSize": 11,
            "labelColor": "#111111",
            "labelExpr": "replace(datum.label, ' ', '\u00a0\u00a0\u00a0')",
            "strokeColor": "#1a1a1a",
            "fillColor": "white",
            "padding": 4,
            "rowPadding": 3
          }
        }
      }
    },
    {
      "data": {"name": "tips"},
      "mark": {"type": "point", "opacity": 0},
      "encoding": {
        "x": {"field": "f", "type": "quantitative", "axis": {"orient": "top", "values": [0,1,2,3,4,5,6,7,8,9,10], "labels": false, "grid": false, "title": null, "ticks": true}},
        "y": {"field": "v", "type": "quantitative", "axis": {"orient": "right", "values": [0,2,4,6,8,10,12,14,16,18,20], "labels": false, "grid": false, "title": null, "ticks": true}}
      }
    },
    {
      "data": {"name": "tips"},
      "mark": {"type": "rect", "width": 47, "height": 28, "xOffset": 30, "yOffset": -18, "fill": "white", "stroke": "#c8c8c8", "strokeWidth": 1},
      "encoding": {
        "x": {"field": "f", "type": "quantitative", "axis": null},
        "y": {"field": "v", "type": "quantitative", "axis": null}
      }
    },
    {
      "data": {"name": "tips"},
      "transform": [{"calculate": "'X: ' + datum.f", "as": "xl"}],
      "mark": {"type": "text", "align": "left", "baseline": "middle", "dx": 9, "dy": -24, "font": "Liberation Sans", "fontSize": 9.5, "color": "#1a1a1a"},
      "encoding": {
        "x": {"field": "f", "type": "quantitative", "axis": null},
        "y": {"field": "v", "type": "quantitative", "axis": null},
        "text": {"field": "xl"}
      }
    },
    {
      "data": {"name": "tips"},
      "transform": [{"calculate": "'Y: ' + datum.v", "as": "yl"}],
      "mark": {"type": "text", "align": "left", "baseline": "middle", "dx": 9, "dy": -12, "font": "Liberation Sans", "fontSize": 9.5, "color": "#1a1a1a"},
      "encoding": {
        "x": {"field": "f", "type": "quantitative", "axis": null},
        "y": {"field": "v", "type": "quantitative", "axis": null},
        "text": {"field": "yl"}
      }
    },
    {
      "data": {"name": "tips"},
      "mark": {"type": "point", "shape": "square", "filled": true, "size": 56, "color": "#111111", "stroke": "#dddddd", "strokeWidth": 1, "opacity": 1},
      "encoding": {
        "x": {"field": "f", "type": "quantitative", "axis": null},
        "y": {"field": "v", "type": "quantitative", "axis": null}
      }
    }
  ]
}
